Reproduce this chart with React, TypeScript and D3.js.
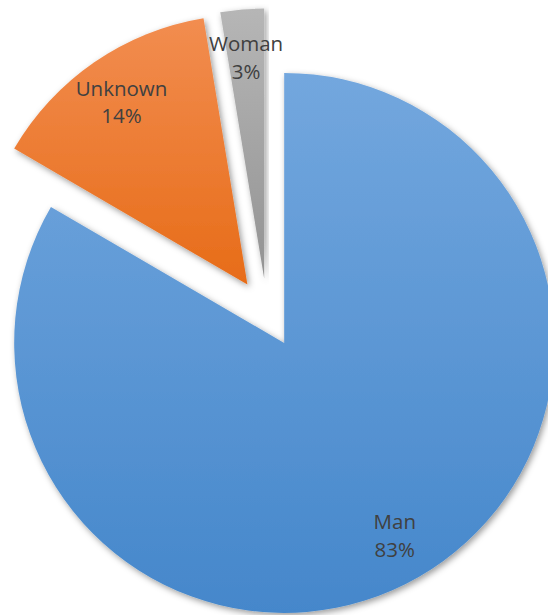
import React from "react";
import * as d3 from "d3";

const categories = ["Man", "Unknown", "Woman"];
const shares = [83.4, 14.0, 2.6];
const labels = ["83%", "14%", "3%"];

const topColors = ["#73a7de", "#f28d50", "#b6b6b6"];
const bottomColors = ["#4587cb", "#e76c18", "#939393"];

const App: React.FC = () => {
  const width = 548;
  const height = 615;
  const cx = 267;
  const cy = 313;
  const radius = 270;
  const explode = 34.5;
  const labelRadius = 222;

  const pie = d3
    .pie<number>()
    .sort(null)
    .value((d) => d);
  const arcs = pie(shares);

  const arc = d3.arc<d3.PieArcDatum<number>>().innerRadius(0).outerRadius(radius);
  const labelArc = d3
    .arc<d3.PieArcDatum<number>>()
    .innerRadius(labelRadius)
    .outerRadius(labelRadius);

  return (
    <svg
      width={width}
      height={height}
      style={{ position: "absolute", left: 0, top: 0 }}
    >
      <defs>
        {arcs.map((d, i) => (
          <linearGradient key={i} id={`grad${i}`} x1="0" y1="0" x2="0" y2="1">
            <stop offset="0%" stopColor={topColors[i]} />
            <stop offset="100%" stopColor={bottomColors[i]} />
          </linearGradient>
        ))}
        <filter id="shadow" x="-10%" y="-10%" width="120%" height="120%">
          <feDropShadow dx="2" dy="2.5" stdDeviation="3" floodColor="#000" floodOpacity="0.4" />
        </filter>
      </defs>
      {arcs.map((d, i) => {
        const mid = (d.startAngle + d.endAngle) / 2;
        const ox = cx + explode * Math.sin(mid);
        const oy = cy - explode * Math.cos(mid);
        const [lx, ly] = labelArc.centroid(d);
        return (
          <g key={categories[i]} transform={`translate(${ox},${oy})`}>
            <path d={arc(d) || ""} fill={`url(#grad${i})`} filter="url(#shadow)" />
            <text
              x={lx}
              y={ly}
              textAnchor="middle"
              fontFamily="'Open Sans', 'Noto Sans', sans-serif"
              fontSize={20.5}
              fill="#404040"
            >
              <tspan x={lx} dy="-0.3em">{categories[i]}</tspan>
              <tspan x={lx} dy="1.36em">{labels[i]}</tspan>
            </text>
          </g>
        );
      })}
    </svg>
  );
};

export default App;
